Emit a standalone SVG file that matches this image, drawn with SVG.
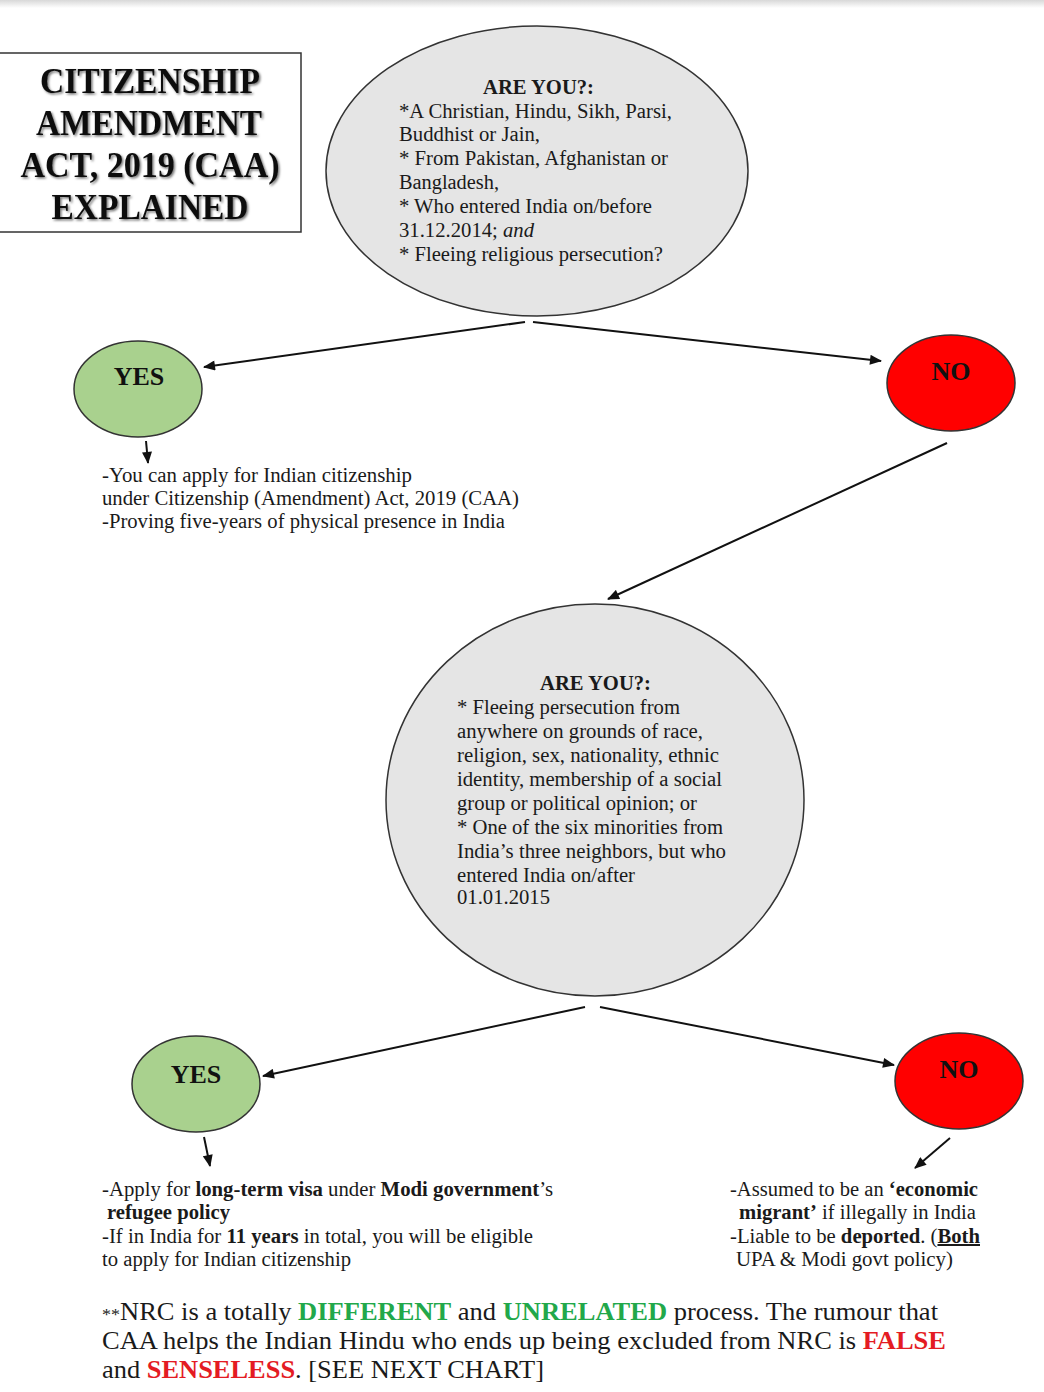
<svg xmlns="http://www.w3.org/2000/svg" width="1044" height="1392" viewBox="0 0 1044 1392">
<style>
.t{font-family:"Liberation Serif","Times New Roman",serif;font-size:20px;fill:#1a1a1a}
.b{font-weight:bold}
.title{font-family:"Liberation Serif","Times New Roman",serif;font-size:36px;font-weight:bold;fill:#111;text-anchor:middle}
.lbl{font-family:"Liberation Serif","Times New Roman",serif;font-size:26px;font-weight:bold;fill:#111;text-anchor:middle}
.big{font-family:"Liberation Serif","Times New Roman",serif;font-size:25px;fill:#1a1a1a}
.q{fill:#e5e5e5;stroke:#333;stroke-width:1.5}
.yes{fill:#a9d18e;stroke:#333;stroke-width:1.5}
.no{fill:#ff0000;stroke:#333;stroke-width:1.5}
.c line{stroke:#111;stroke-width:2;marker-end:url(#ah)}
.g{fill:#22a84a;font-weight:bold}
.r{fill:#e41b23;font-weight:bold}
</style>
<defs>
<marker id="ah" viewBox="0 0 12 10" refX="11" refY="5" markerWidth="13" markerHeight="10" markerUnits="userSpaceOnUse" orient="auto">
<path d="M0,0 L12,5 L0,10 Z" fill="#111"/>
</marker>
<filter id="sh" x="-10%" y="-20%" width="130%" height="150%">
<feDropShadow dx="1.5" dy="1.5" stdDeviation="1" flood-color="#000" flood-opacity="0.55"/>
</filter>
<linearGradient id="topbar" x1="0" y1="0" x2="0" y2="1">
<stop offset="0" stop-color="#d8d8d8"/><stop offset="1" stop-color="#ffffff"/>
</linearGradient>
</defs>
<rect width="1044" height="1392" fill="#fff"/>
<rect x="0" y="0" width="1044" height="8" fill="url(#topbar)"/>

<g id="title">
<rect x="-2" y="53" width="303" height="179" fill="#fff" stroke="#333" stroke-width="1.5"/>
<g filter="url(#sh)">
<text class="title" x="150" y="93" textLength="220" lengthAdjust="spacingAndGlyphs">CITIZENSHIP</text>
<text class="title" x="149" y="135" textLength="226" lengthAdjust="spacingAndGlyphs">AMENDMENT</text>
<text class="title" x="150" y="177" textLength="259" lengthAdjust="spacingAndGlyphs">ACT, 2019 (CAA)</text>
<text class="title" x="150" y="219" textLength="197" lengthAdjust="spacingAndGlyphs">EXPLAINED</text>
</g>
</g>

<g id="q1">
<ellipse class="q" cx="537" cy="171" rx="211" ry="145"/>
<text class="t b" x="483" y="94" textLength="111" lengthAdjust="spacingAndGlyphs">ARE YOU?:</text>
<text class="t" x="399" y="118" textLength="273" lengthAdjust="spacingAndGlyphs">*A Christian, Hindu, Sikh, Parsi,</text>
<text class="t" x="399" y="141" textLength="141" lengthAdjust="spacingAndGlyphs">Buddhist or Jain,</text>
<text class="t" x="399" y="165" textLength="269" lengthAdjust="spacingAndGlyphs">* From Pakistan, Afghanistan or</text>
<text class="t" x="399" y="189" textLength="100" lengthAdjust="spacingAndGlyphs">Bangladesh,</text>
<text class="t" x="399" y="213" textLength="253" lengthAdjust="spacingAndGlyphs">* Who entered India on/before</text>
<text class="t" x="399" y="237" textLength="135" lengthAdjust="spacingAndGlyphs">31.12.2014; <tspan font-style="italic">and</tspan></text>
<text class="t" x="399" y="261" textLength="264" lengthAdjust="spacingAndGlyphs">* Fleeing religious persecution?</text>
</g>

<g id="yes1">
<ellipse class="yes" cx="138" cy="389" rx="64" ry="48"/>
<text class="lbl" x="139" y="385">YES</text>
</g>

<g id="no1">
<ellipse class="no" cx="951" cy="383" rx="64" ry="48"/>
<text class="lbl" x="951" y="380">NO</text>
</g>

<g id="yes1-text">
<text class="t" x="102" y="482" textLength="310" lengthAdjust="spacingAndGlyphs">-You can apply for Indian citizenship</text>
<text class="t" x="102" y="505" textLength="417" lengthAdjust="spacingAndGlyphs">under Citizenship (Amendment) Act, 2019 (CAA)</text>
<text class="t" x="102" y="528" textLength="403" lengthAdjust="spacingAndGlyphs">-Proving five-years of physical presence in India</text>
</g>

<g id="q2">
<ellipse class="q" cx="595" cy="800" rx="209" ry="196"/>
<text class="t b" x="540" y="690" textLength="111" lengthAdjust="spacingAndGlyphs">ARE YOU?:</text>
<text class="t" x="457" y="714" textLength="223" lengthAdjust="spacingAndGlyphs">* Fleeing persecution from</text>
<text class="t" x="457" y="738" textLength="246" lengthAdjust="spacingAndGlyphs">anywhere on grounds of race,</text>
<text class="t" x="457" y="762" textLength="262" lengthAdjust="spacingAndGlyphs">religion, sex, nationality, ethnic</text>
<text class="t" x="457" y="786" textLength="265" lengthAdjust="spacingAndGlyphs">identity, membership of a social</text>
<text class="t" x="457" y="810" textLength="240" lengthAdjust="spacingAndGlyphs">group or political opinion; or</text>
<text class="t" x="457" y="834" textLength="266" lengthAdjust="spacingAndGlyphs">* One of the six minorities from</text>
<text class="t" x="457" y="858" textLength="269" lengthAdjust="spacingAndGlyphs">India’s three neighbors, but who</text>
<text class="t" x="457" y="882" textLength="178" lengthAdjust="spacingAndGlyphs">entered India on/after</text>
<text class="t" x="457" y="904" textLength="93" lengthAdjust="spacingAndGlyphs">01.01.2015</text>
</g>

<g id="yes2">
<ellipse class="yes" cx="196" cy="1084" rx="64" ry="48"/>
<text class="lbl" x="196" y="1083">YES</text>
</g>

<g id="no2">
<ellipse class="no" cx="959" cy="1081" rx="64" ry="48"/>
<text class="lbl" x="959" y="1078">NO</text>
</g>

<g id="yes2-text">
<text class="t" x="102" y="1196" textLength="451" lengthAdjust="spacingAndGlyphs">-Apply for <tspan class="b">long-term visa</tspan> under <tspan class="b">Modi government</tspan>’s</text>
<text class="t b" x="107" y="1219" textLength="123" lengthAdjust="spacingAndGlyphs">refugee policy</text>
<text class="t" x="102" y="1243" textLength="431" lengthAdjust="spacingAndGlyphs">-If in India for <tspan class="b">11 years</tspan> in total, you will be eligible</text>
<text class="t" x="102" y="1266" textLength="249" lengthAdjust="spacingAndGlyphs">to apply for Indian citizenship</text>
</g>

<g id="no2-text">
<text class="t" x="730" y="1196" textLength="248" lengthAdjust="spacingAndGlyphs">-Assumed to be an <tspan class="b">‘economic</tspan></text>
<text class="t" x="739" y="1219" textLength="237" lengthAdjust="spacingAndGlyphs"><tspan class="b">migrant’</tspan> if illegally in India</text>
<text class="t" x="730" y="1243" textLength="250" lengthAdjust="spacingAndGlyphs">-Liable to be <tspan class="b">deported</tspan>. (<tspan class="b" text-decoration="underline">Both</tspan></text>
<text class="t" x="736" y="1266" textLength="217" lengthAdjust="spacingAndGlyphs">UPA &amp; Modi govt policy)</text>
</g>

<g id="note">
<text class="big" x="102" y="1320" textLength="836" lengthAdjust="spacingAndGlyphs"><tspan font-size="17">**</tspan>NRC is a totally <tspan class="g">DIFFERENT</tspan> and <tspan class="g">UNRELATED</tspan> process. The rumour that</text>
<text class="big" x="102" y="1349" textLength="844" lengthAdjust="spacingAndGlyphs">CAA helps the Indian Hindu who ends up being excluded from NRC is <tspan class="r">FALSE</tspan></text>
<text class="big" x="102" y="1378" textLength="442" lengthAdjust="spacingAndGlyphs">and <tspan class="r">SENSELESS</tspan>. [SEE NEXT CHART]</text>
</g>

<g id="connectors" class="c">
<line x1="525" y1="322" x2="204" y2="367"/>
<line x1="533" y1="322" x2="881" y2="361"/>
<line x1="146" y1="441" x2="148" y2="463"/>
<line x1="947" y1="443" x2="608" y2="599"/>
<line x1="585" y1="1007" x2="263" y2="1076"/>
<line x1="600" y1="1007" x2="894" y2="1065"/>
<line x1="204" y1="1137" x2="210" y2="1166"/>
<line x1="950" y1="1138" x2="915" y2="1168"/>
</g>
</svg>
